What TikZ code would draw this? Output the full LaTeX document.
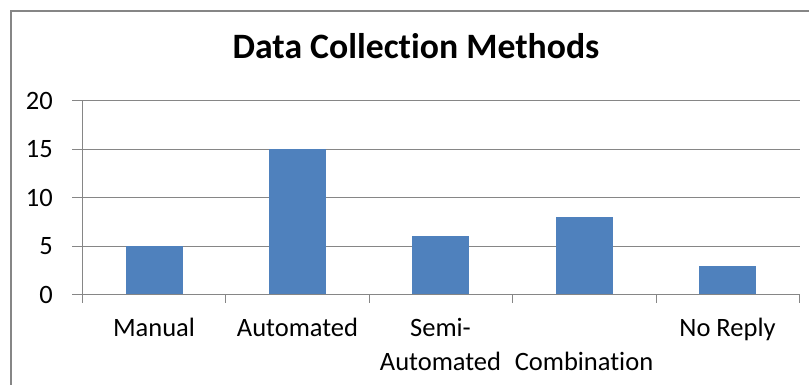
\documentclass[tikz,border=0pt]{standalone}
\usepackage{fontspec}
\setmainfont{Carlito}[Ligatures=NoCommon]
\definecolor{barblue}{HTML}{4F81BD}
\definecolor{framegray}{HTML}{868686}

\begin{document}
\begin{tikzpicture}[x=1pt,y=1pt]
    \tikzstyle{grid}=[framegray, line width=1pt]
    \tikzstyle{bar}=[fill=barblue, draw=none]
    \tikzstyle{lbl}=[font=\fontsize{26.5}{31}\selectfont, inner sep=0pt, text=black]

    \useasboundingbox (0,0) rectangle (809,385);
    \draw[framegray, line width=2pt] (11,-20) -- (11,374) -- (830,374);

    \node[font=\fontsize{35.7}{42}\selectfont\bfseries, inner sep=0pt, anchor=base] (title) at (416,326) {Data Collection Methods};

    \foreach \v in {0,5,...,20} {
        \draw[grid] (72,{90.3+9.7*\v}) -- (800,{90.3+9.7*\v});
        \node[lbl, anchor=east] (y\v) at (53,{90.3+9.7*\v}) {\v};
    }
    \draw[grid] (82,90.3) -- (82,284.3);
    \foreach \x in {82,225.5,369,512.5,656,799.5}
        \draw[grid] (\x,90.3) -- (\x,82);

    \foreach \x/\v in {154/5, 297.5/15, 440.5/6, 584/8, 727.5/3}
        \fill[bar] (\x-28.5,90.8) rectangle (\x+28.5,{90.3+9.7*\v});

    \node[lbl, anchor=base] (manual) at (154,48) {Manual};
    \node[lbl, anchor=base] (auto) at (297.5,48) {Automated};
    \node[lbl, anchor=base] (semi) at (440.5,48) {Semi-};
    \node[lbl, anchor=base] (semiauto) at (440.5,14.3) {Automated};
    \node[lbl, anchor=base] (comb) at (584,14.3) {Combination};
    \node[lbl, anchor=base] (noreply) at (727.5,48) {No Reply};
\end{tikzpicture}
\end{document}
